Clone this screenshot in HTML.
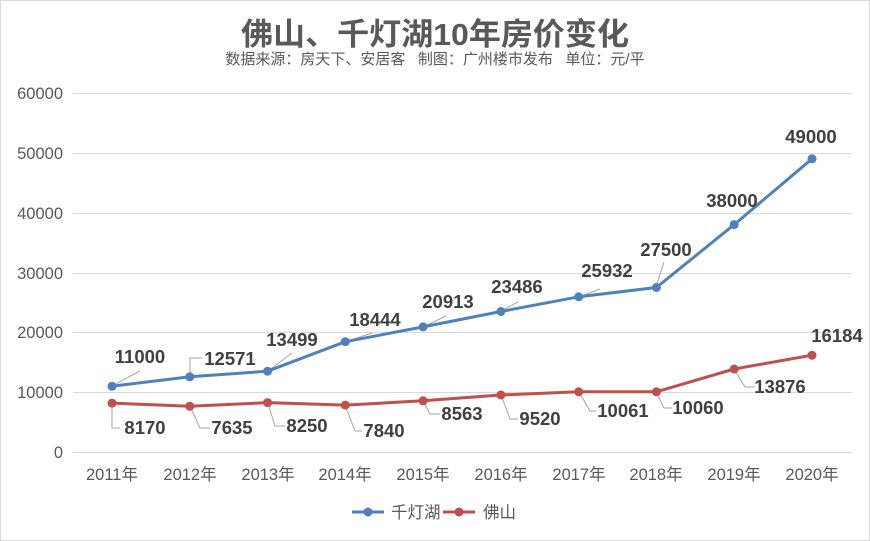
<!DOCTYPE html>
<html><head><meta charset="utf-8"><style>
body{margin:0;background:#fff}
svg{display:block;font-family:"Liberation Sans","Noto Sans CJK SC",sans-serif}
.l{font-weight:bold;font-size:18.5px;fill:#404040;text-anchor:middle}
.ax{font-size:16.5px;fill:#595959}
.ld{stroke:#a6a6a6;stroke-width:1;fill:none}
</style></head><body>
<svg width="870" height="541" viewBox="0 0 870 541">
<rect x="0.5" y="0.5" width="869" height="540" fill="#fff" stroke="#d9d9d9"/>
<text x="435" y="45" text-anchor="middle" font-size="31" font-weight="bold" fill="#595959" textLength="388" lengthAdjust="spacingAndGlyphs">佛山、千灯湖10年房价变化</text>
<text x="435" y="64" text-anchor="middle" font-size="15" fill="#595959" xml:space="preserve">数据来源：房天下、安居客   制图：广州楼市发布   单位：元/平</text>
<g stroke="#d9d9d9" stroke-width="1">
<line x1="73" x2="852" y1="93.5" y2="93.5"/><line x1="73" x2="852" y1="153.5" y2="153.5"/>
<line x1="73" x2="852" y1="213.5" y2="213.5"/><line x1="73" x2="852" y1="273.5" y2="273.5"/>
<line x1="73" x2="852" y1="332.5" y2="332.5"/><line x1="73" x2="852" y1="392.5" y2="392.5"/>
<line x1="73" x2="852" y1="452.5" y2="452.5"/>
</g>
<g class="ax" text-anchor="end">
<text x="63" y="99">60000</text><text x="63" y="159">50000</text><text x="63" y="219">40000</text>
<text x="63" y="279">30000</text><text x="63" y="338">20000</text><text x="63" y="398">10000</text><text x="63" y="458">0</text>
</g>
<g class="ax" text-anchor="middle">
<text x="112" y="480">2011年</text><text x="190" y="480">2012年</text><text x="268" y="480">2013年</text>
<text x="345" y="480">2014年</text><text x="423" y="480">2015年</text><text x="501" y="480">2016年</text>
<text x="579" y="480">2017年</text><text x="656" y="480">2018年</text><text x="734" y="480">2019年</text><text x="812" y="480">2020年</text>
</g>
<g class="ld">
<path d="M112 386L140 371"/><path d="M190 377V358H202"/><path d="M268 371L292 353"/>
<path d="M345 342L372 333"/><path d="M423 327L446 316"/><path d="M501 311L518 302"/>
<path d="M579 297L600 289"/><path d="M656 287L664 262"/>
<path d="M112 403V428H120"/><path d="M190 406L200 428H210"/><path d="M268 403L275 426H285"/>
<path d="M345 405L355 431H362"/><path d="M423 401L430 414H440"/><path d="M501 395L510 419H518"/>
<path d="M579 392L590 411H596"/><path d="M656 392L664 408H672"/><path d="M734 369L745 387H755"/>
</g>
<polyline fill="none" stroke="#4f81bd" stroke-width="3" stroke-linejoin="round" points="112,386.2 189.8,376.8 267.6,371.2 345.3,341.7 423.1,326.9 500.9,311.5 578.7,296.8 656.4,287.5 734.2,224.6 812,158.8"/>
<polyline fill="none" stroke="#c0504d" stroke-width="3" stroke-linejoin="round" points="112,403.1 189.8,406.3 267.6,402.6 345.3,405.1 423.1,400.8 500.9,395 578.7,391.8 656.4,391.8 734.2,369 812,355.2"/>
<g fill="#4f81bd">
<circle cx="112" cy="386.2" r="4.5"/><circle cx="189.8" cy="376.8" r="4.5"/><circle cx="267.6" cy="371.2" r="4.5"/><circle cx="345.3" cy="341.7" r="4.5"/><circle cx="423.1" cy="326.9" r="4.5"/><circle cx="500.9" cy="311.5" r="4.5"/><circle cx="578.7" cy="296.8" r="4.5"/><circle cx="656.4" cy="287.5" r="4.5"/><circle cx="734.2" cy="224.6" r="4.5"/><circle cx="812" cy="158.8" r="4.5"/>
</g>
<g fill="#c0504d">
<circle cx="112" cy="403.1" r="4.5"/><circle cx="189.8" cy="406.3" r="4.5"/><circle cx="267.6" cy="402.6" r="4.5"/><circle cx="345.3" cy="405.1" r="4.5"/><circle cx="423.1" cy="400.8" r="4.5"/><circle cx="500.9" cy="395" r="4.5"/><circle cx="578.7" cy="391.8" r="4.5"/><circle cx="656.4" cy="391.8" r="4.5"/><circle cx="734.2" cy="369" r="4.5"/><circle cx="812" cy="355.2" r="4.5"/>
</g>
<g class="l">
<text x="140" y="363">11000</text><text x="230" y="365">12571</text><text x="292" y="346">13499</text>
<text x="375" y="326">18444</text><text x="448" y="308">20913</text><text x="517" y="293">23486</text>
<text x="607" y="277">25932</text><text x="666" y="256">27500</text><text x="732" y="207">38000</text><text x="811" y="143">49000</text>
<text x="145" y="434">8170</text><text x="232" y="434">7635</text><text x="307" y="432">8250</text>
<text x="384" y="437">7840</text><text x="462" y="420">8563</text><text x="540" y="425">9520</text>
<text x="623" y="417">10061</text><text x="698" y="414">10060</text><text x="780" y="393">13876</text><text x="837" y="342">16184</text>
</g>
<line x1="352" x2="384" y1="512" y2="512" stroke="#4f81bd" stroke-width="3"/><circle cx="368" cy="512" r="4.5" fill="#4f81bd"/>
<text x="391" y="518" class="ax">千灯湖</text>
<line x1="443" x2="475" y1="512" y2="512" stroke="#c0504d" stroke-width="3"/><circle cx="459" cy="512" r="4.5" fill="#c0504d"/>
<text x="483" y="518" class="ax">佛山</text>
</svg>
</body></html>
